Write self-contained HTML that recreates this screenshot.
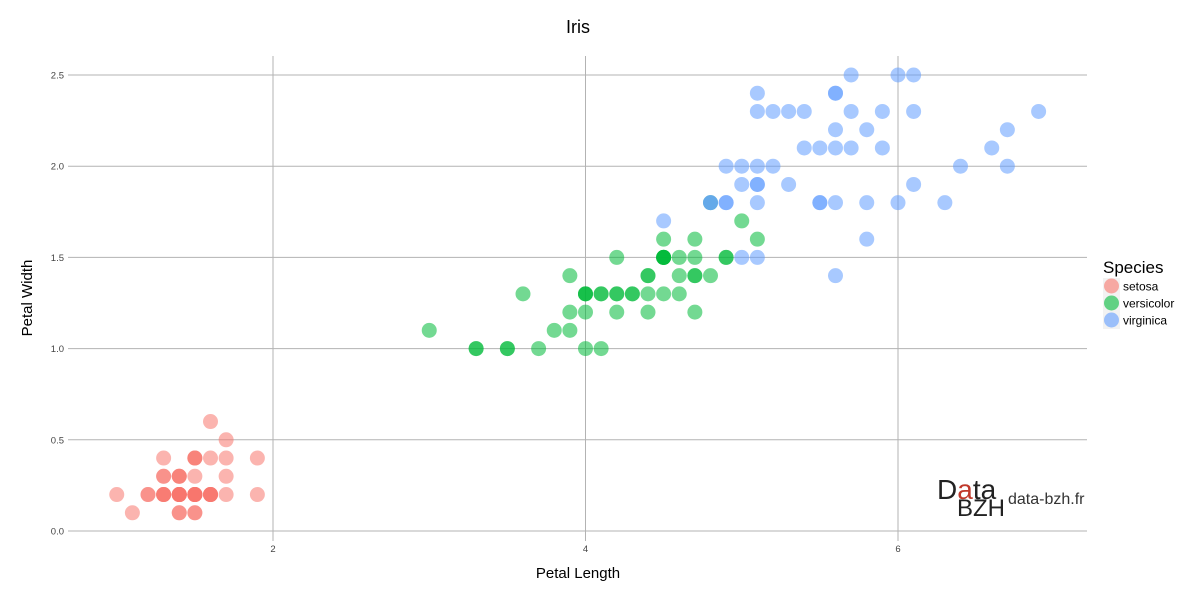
<!DOCTYPE html>
<html><head><meta charset="utf-8"><style>
body{margin:0;background:#fff;font-family:"Liberation Sans",sans-serif}
</style></head><body>
<svg id="chart" width="1200" height="600" xmlns="http://www.w3.org/2000/svg">
<text x="578" y="33" font-size="18" text-anchor="middle" fill="#000">Iris</text>
<g id="grid"></g>
<g id="points"></g>
<g id="ticks"></g>
<text x="578" y="578" font-size="15" text-anchor="middle">Petal Length</text>
<text transform="translate(32,298) rotate(-90)" font-size="15" text-anchor="middle">Petal Width</text>
<g>
<text x="1103" y="273" font-size="17">Species</text>
<g id="legend"></g>
</g>
<g>
<text x="937" y="499" font-size="28" fill="#222">D<tspan fill="#c0392b">a</tspan>ta</text>
<text x="957" y="516" font-size="24" fill="#222">BZH</text>
<text x="1008" y="504" font-size="16" fill="#333">data-bzh.fr</text>
</g>
</svg>
<script>
const species=["setosa","versicolor","virginica"];
const colors=["#F8766D","#00BA38","#619CFF"];
const xTicks=[2,4,6];
const yTicks=[0,0.5,1,1.5,2,2.5];
const setosaLen=[1.4,1.4,1.3,1.5,1.4,1.7,1.4,1.5,1.4,1.5,1.5,1.6,1.4,1.1,1.2,1.5,1.3,1.4,1.7,1.5,1.7,1.5,1.0,1.7,1.9,1.6,1.6,1.5,1.4,1.6,1.6,1.5,1.5,1.4,1.5,1.2,1.3,1.4,1.3,1.5,1.3,1.3,1.3,1.6,1.9,1.4,1.6,1.4,1.5,1.4];
const setosaWid=[.2,.2,.2,.2,.2,.4,.3,.2,.2,.1,.2,.2,.1,.1,.2,.4,.4,.3,.3,.3,.2,.4,.2,.5,.2,.2,.4,.2,.2,.2,.2,.4,.1,.2,.2,.2,.2,.1,.2,.2,.3,.3,.2,.6,.4,.3,.2,.2,.2,.2];
const versLen=[4.7,4.5,4.9,4.0,4.6,4.5,4.7,3.3,4.6,3.9,3.5,4.2,4.0,4.7,3.6,4.4,4.5,4.1,4.5,3.9,4.8,4.0,4.9,4.7,4.3,4.4,4.8,5.0,4.5,3.5,3.8,3.7,3.9,5.1,4.5,4.5,4.7,4.4,4.1,4.0,4.4,4.6,4.0,3.3,4.2,4.2,4.2,4.3,3.0,4.1];
const versWid=[1.4,1.5,1.5,1.3,1.5,1.3,1.6,1.0,1.3,1.4,1.0,1.5,1.0,1.4,1.3,1.4,1.5,1.0,1.5,1.1,1.8,1.3,1.5,1.2,1.3,1.4,1.4,1.7,1.5,1.0,1.1,1.0,1.2,1.6,1.5,1.6,1.5,1.3,1.3,1.3,1.2,1.4,1.2,1.0,1.3,1.2,1.3,1.3,1.1,1.3];
const virgLen=[6.0,5.1,5.9,5.6,5.8,6.6,4.5,6.3,5.8,6.1,5.1,5.3,5.5,5.0,5.1,5.3,5.5,6.7,6.9,5.0,5.7,4.9,6.7,4.9,5.7,6.0,4.8,4.9,5.6,5.8,6.1,6.4,5.6,5.1,5.6,6.1,5.6,5.5,4.8,5.4,5.6,5.1,5.1,5.9,5.7,5.2,5.0,5.2,5.4,5.1];
const virgWid=[2.5,1.9,2.1,1.8,2.2,2.1,1.7,1.8,1.8,2.5,2.0,1.9,2.1,2.0,2.4,2.3,1.8,2.2,2.3,1.5,2.3,2.0,2.0,1.8,2.1,1.8,1.8,1.8,2.1,1.6,1.9,2.0,2.2,1.5,1.4,2.3,2.4,1.8,1.8,2.1,2.4,2.3,1.9,2.3,2.5,2.3,1.9,2.0,2.3,1.8];

const NS="http://www.w3.org/2000/svg";
const L=68,R=1087,T=56,B=541;
const xs=v=>273+(v-2)*156.25;
const ys=v=>531-v*182.4;
function mk(t,a,p){const e=document.createElementNS(NS,t);for(const k in a)e.setAttribute(k,a[k]);p.appendChild(e);return e;}
const grid=document.getElementById('grid'),ticks=document.getElementById('ticks');
yTicks.forEach(v=>{
 const l=mk('line',{x1:L,x2:R,y1:ys(v),y2:ys(v),stroke:'#b3b3b3','stroke-width':1},grid);
 
 
 const t=mk('text',{x:L-4,y:ys(v)+3.5,'font-size':9.5,'text-anchor':'end',fill:'#444'},ticks);
 t.textContent=v.toFixed(1);
 
 
});
xTicks.forEach(v=>{
 const l=mk('line',{x1:xs(v),x2:xs(v),y1:T,y2:B,stroke:'#b3b3b3','stroke-width':1},grid);
 
 
 const t=mk('text',{x:xs(v),y:B+11,'font-size':9.5,'text-anchor':'middle',fill:'#444'},ticks);
 t.textContent=v;
 
 
});
const pts=document.getElementById('points');
const sets=[[setosaLen,setosaWid],[versLen,versWid],[virgLen,virgWid]];
sets.forEach((s,i)=>{
 s[0].forEach((x,j)=>{
  const c=mk('circle',{cx:xs(x),cy:ys(s[1][j]),r:7.5,fill:colors[i],'fill-opacity':0.55},pts);
  
  
 });
});
const lg=document.getElementById('legend');
species.forEach((s,i)=>{
 const y=286+i*17;
 const r=mk('rect',{x:1103,y:y-8,width:17,height:17,fill:'#f2f2f2'},lg);
 
 
 const c=mk('circle',{cx:1111.5,cy:y,r:7.5,fill:colors[i],'fill-opacity':0.6},lg);
 
 
 const t=mk('text',{x:1123,y:y+4.5,'font-size':12},lg);
 t.textContent=s;
 
 
});
</script>
</body></html>
